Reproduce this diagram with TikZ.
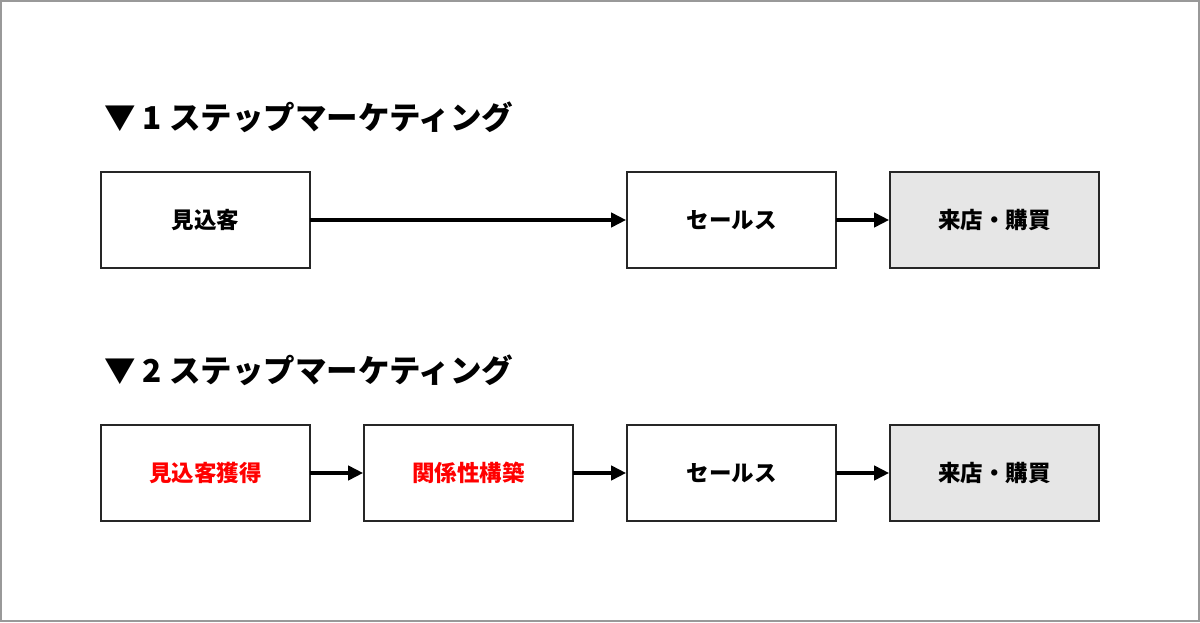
\documentclass[tikz,border=0pt]{standalone}
\usepackage{fontspec}
\setmainfont{Noto Sans CJK JP}
\usetikzlibrary{arrows.meta}
\definecolor{framegray}{HTML}{999999}
\definecolor{boxgray}{HTML}{E6E6E6}
\definecolor{jred}{HTML}{FF0000}
\tikzset{
  stepbox/.style={draw=black!85, line width=1.6pt, minimum width=209pt, minimum height=96pt, inner sep=0pt, font=\fontsize{22.5}{26}\selectfont\bfseries, fill=white},
  endbox/.style={stepbox, fill=boxgray},
  flow/.style={line width=4pt, -{Triangle[length=15pt,width=14pt]}, shorten <=-1pt},
  heading/.style={anchor=west, inner sep=0pt, font=\fontsize{31.5}{35}\selectfont\bfseries}
}
\begin{document}
\begin{tikzpicture}[x=1pt,y=1pt]
\useasboundingbox (0,0) rectangle (1200,622);
\draw[framegray, line width=2pt] (1,1) rectangle (1199,621);
% headings
\node[heading] (h1) at (104,505) {▼ 1 ステップマーケティング};
\node[heading] (h2) at (104,252) {▼ 2 ステップマーケティング};
% row 1
\node[stepbox] (a1) at (205.5,402) {見込客};
\node[stepbox] (a2) at (731.5,402) {セールス};
\node[endbox]  (a3) at (994.5,402) {来店・購買};
\draw[flow] (a1.east) -- (a2.west);
\draw[flow] (a2.east) -- (a3.west);
% row 2
\node[stepbox, text=jred] (b1) at (205.5,149) {見込客獲得};
\node[stepbox, text=jred] (b2) at (468.5,149) {関係性構築};
\node[stepbox] (b3) at (731.5,149) {セールス};
\node[endbox]  (b4) at (994.5,149) {来店・購買};
\draw[flow] (b1.east) -- (b2.west);
\draw[flow] (b2.east) -- (b3.west);
\draw[flow] (b3.east) -- (b4.west);
\end{tikzpicture}
\end{document}
